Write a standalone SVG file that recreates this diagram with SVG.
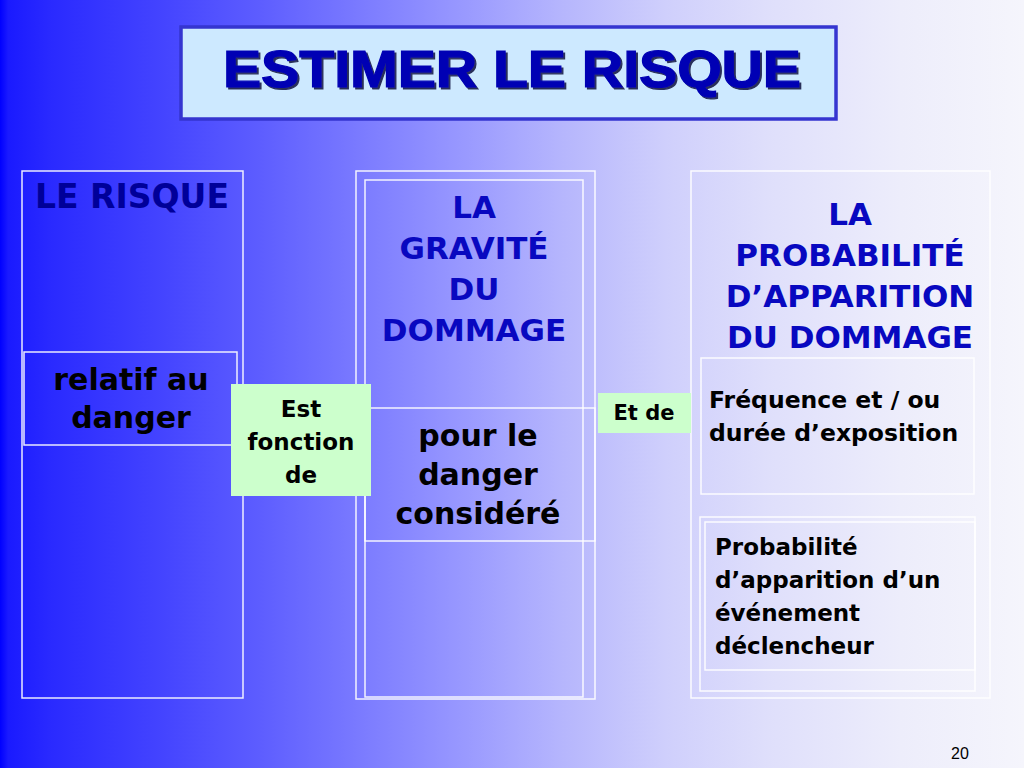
<svg xmlns="http://www.w3.org/2000/svg" width="1024" height="768" viewBox="0 0 1024 768">
<defs>
<linearGradient id="bg" x1="0" y1="0" x2="1024" y2="0" gradientUnits="userSpaceOnUse">
<stop offset="0" stop-color="#0000ff"/>
<stop offset="0.008" stop-color="#1a1aff"/>
<stop offset="0.05" stop-color="#2a2aff"/>
<stop offset="0.15" stop-color="#4242ff"/>
<stop offset="0.25" stop-color="#5c5cff"/>
<stop offset="0.35" stop-color="#7a7aff"/>
<stop offset="0.45" stop-color="#9898ff"/>
<stop offset="0.55" stop-color="#b6b6fd"/>
<stop offset="0.65" stop-color="#cfcffc"/>
<stop offset="0.75" stop-color="#dfdffb"/>
<stop offset="0.88" stop-color="#ededfb"/>
<stop offset="1" stop-color="#f5f5fc"/>
</linearGradient>
<filter id="sh" x="-5%" y="-5%" width="110%" height="120%">
<feDropShadow dx="2" dy="2" stdDeviation="0.6" flood-color="#000033" flood-opacity="0.8"/>
</filter>
</defs>
<style>
.frame{fill:none;stroke:#ffffff;stroke-width:1.5;stroke-opacity:0.9}
.green{fill:#ccffcc;stroke:none}
.head{font-family:"DejaVu Sans","Noto Sans",sans-serif;font-weight:bold;fill:#0808c0;text-anchor:middle}
.body{font-family:"DejaVu Sans","Noto Sans",sans-serif;font-weight:bold;fill:#000000}
.mid{text-anchor:middle}
</style>
<rect x="0" y="0" width="1024" height="768" fill="url(#bg)"/>

<g id="title">
<rect x="181" y="27" width="655" height="92" fill="#cde9ff" stroke="#3535d0" stroke-width="3.5"/>
<text x="512" y="87" font-family="'Liberation Sans',Arial,sans-serif" font-weight="bold" font-size="52" fill="#0000b4" stroke="#0000b4" stroke-width="1.2" text-anchor="middle" textLength="578" lengthAdjust="spacingAndGlyphs" filter="url(#sh)">ESTIMER LE RISQUE</text>
</g>

<g id="col-risque">
<rect class="frame" x="22" y="171" width="221" height="527"/>
<text class="head" x="132" y="208" font-size="33" style="fill:#000099">LE RISQUE</text>
</g>

<g id="relatif">
<rect class="frame" x="24" y="352" width="213" height="93"/>
<text class="body mid" x="131" y="390" font-size="30">relatif au</text>
<text class="body mid" x="131" y="428" font-size="30">danger</text>
</g>

<g id="col-gravite">
<rect class="frame" x="356" y="171" width="239" height="528"/>
<rect class="frame" x="365" y="180" width="218" height="517"/>
<text class="head" x="474" y="218" font-size="31">LA</text>
<text class="head" x="474" y="259" font-size="31">GRAVITÉ</text>
<text class="head" x="474" y="300" font-size="31">DU</text>
<text class="head" x="474" y="341" font-size="31">DOMMAGE</text>
</g>

<g id="danger-considere">
<rect class="frame" x="365" y="408" width="230" height="133"/>
<text class="body mid" x="478" y="446" font-size="30">pour le</text>
<text class="body mid" x="478" y="485" font-size="30">danger</text>
<text class="body mid" x="478" y="524" font-size="30">considéré</text>
</g>

<g id="col-probabilite">
<rect class="frame" x="691" y="171" width="299" height="527"/>
<text class="head" x="850" y="225" font-size="31">LA</text>
<text class="head" x="850" y="266" font-size="31">PROBABILITÉ</text>
<text class="head" x="850" y="307" font-size="31">D’APPARITION</text>
<text class="head" x="850" y="348" font-size="31">DU DOMMAGE</text>
</g>

<g id="frequence">
<rect class="frame" x="701" y="358" width="273" height="136"/>
<text class="body" x="709" y="408" font-size="23.5">Fréquence et / ou</text>
<text class="body" x="709" y="441" font-size="23.5">durée d’exposition</text>
</g>

<g id="evenement">
<rect class="frame" x="700" y="517" width="275" height="174"/>
<rect class="frame" x="705" y="522" width="270" height="148"/>
<text class="body" x="715" y="555" font-size="23">Probabilité</text>
<text class="body" x="715" y="588" font-size="23">d’apparition d’un</text>
<text class="body" x="715" y="621" font-size="23">événement</text>
<text class="body" x="715" y="654" font-size="23">déclencheur</text>
</g>

<g id="connectors">
<g id="est-fonction">
<rect class="green" x="231" y="384" width="140" height="112"/>
<text class="body mid" x="301" y="417" font-size="23">Est</text>
<text class="body mid" x="301" y="450" font-size="23">fonction</text>
<text class="body mid" x="301" y="483" font-size="23">de</text>
</g>
<g id="et-de">
<rect class="green" x="598" y="393" width="93" height="40"/>
<text class="body mid" x="644" y="420" font-size="21">Et de</text>
</g>
</g>

<text x="960" y="759" font-family="'Liberation Sans',Arial,sans-serif" font-size="16" fill="#000000" text-anchor="middle">20</text>
</svg>
